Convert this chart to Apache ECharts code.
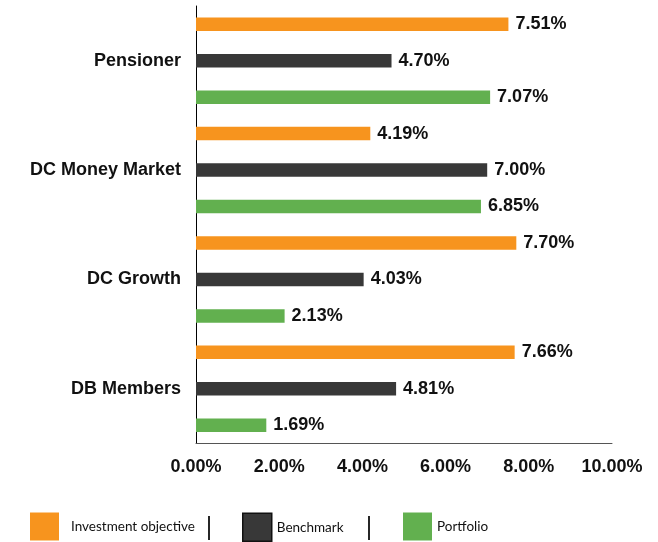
<!DOCTYPE html>
<html>
<head>
<meta charset="utf-8">
<script src="https://cdn.jsdelivr.net/npm/echarts@6/dist/echarts.min.js"></script>
<style>html,body{margin:0;padding:0;background:#fff}#c{width:658px;height:542px}</style>
</head>
<body>
<div id="c"></div>
<script>
var categories = ['DB Members', 'DC Growth', 'DC Money Market', 'Pensioner'];
var investmentObjective = [7.66, 7.70, 4.19, 7.51];
var benchmark = [4.81, 4.03, 7.00, 4.70];
var portfolio = [1.69, 2.13, 6.85, 7.07];
var seriesNames = ['Investment objective', 'Benchmark', 'Portfolio'];
var xTicks = [0, 2, 4, 6, 8, 10];

var colors = { 'Investment objective': '#F7941E', 'Benchmark': '#383838', 'Portfolio': '#62B04F' };
var chart = echarts.init(document.getElementById('c'));
var fmt = function (v) { return Number(v).toFixed(2) + '%'; };
function barSeries(name, data) {
  return {
    name: name, type: 'bar', data: data,
    barWidth: 13.5, barGap: '170%',
    itemStyle: { color: colors[name] },
    label: { show: true, position: 'right', distance: 7, formatter: function (p) { return fmt(p.value); },
      fontFamily: 'Liberation Sans', fontWeight: 'bold', fontSize: 18, color: '#111' }
  };
}
var legendBase = {
  orient: 'horizontal', top: 512.5, padding: 0, icon: 'rect', itemWidth: 29, itemHeight: 28,
  textStyle: { fontFamily: 'Lato', fontSize: 13.5, color: '#111' }, selectedMode: false
};
chart.setOption({
  animation: false,
  grid: { left: 196, top: 6, width: 416, height: 437.5, containLabel: false },
  xAxis: {
    type: 'value', min: xTicks[0], max: xTicks[xTicks.length - 1], interval: xTicks[1] - xTicks[0],
    splitLine: { show: false },
    axisLine: { show: true, lineStyle: { color: '#555', width: 1 } },
    axisTick: { show: false },
    axisLabel: { formatter: fmt, margin: 15, fontFamily: 'Liberation Sans', fontWeight: 'bold', fontSize: 18, color: '#111' }
  },
  yAxis: {
    type: 'category', data: categories,
    axisLine: { show: true, lineStyle: { color: '#000', width: 1 } },
    axisTick: { show: false },
    axisLabel: { margin: 15, fontFamily: 'Liberation Sans', fontWeight: 'bold', fontSize: 18, color: '#111' }
  },
  legend: [
    Object.assign({}, legendBase, { left: 30, data: [seriesNames[0]], textStyle: Object.assign({}, legendBase.textStyle, { padding: [0, 0, 0, 7] }) }),
    Object.assign({}, legendBase, { left: 242, data: [{ name: seriesNames[1], itemStyle: { borderColor: '#111', borderWidth: 1.5 } }] }),
    Object.assign({}, legendBase, { left: 403, data: [seriesNames[2]] })
  ],
  graphic: [
    { type: 'line', shape: { x1: 209, y1: 516, x2: 209, y2: 540 }, style: { stroke: '#000', lineWidth: 1.7 } },
    { type: 'line', shape: { x1: 369, y1: 516, x2: 369, y2: 540 }, style: { stroke: '#000', lineWidth: 1.7 } }
  ],
  series: [
    barSeries(seriesNames[0], investmentObjective),
    barSeries(seriesNames[1], benchmark),
    barSeries(seriesNames[2], portfolio)
  ]
});
</script>
</body>
</html>
